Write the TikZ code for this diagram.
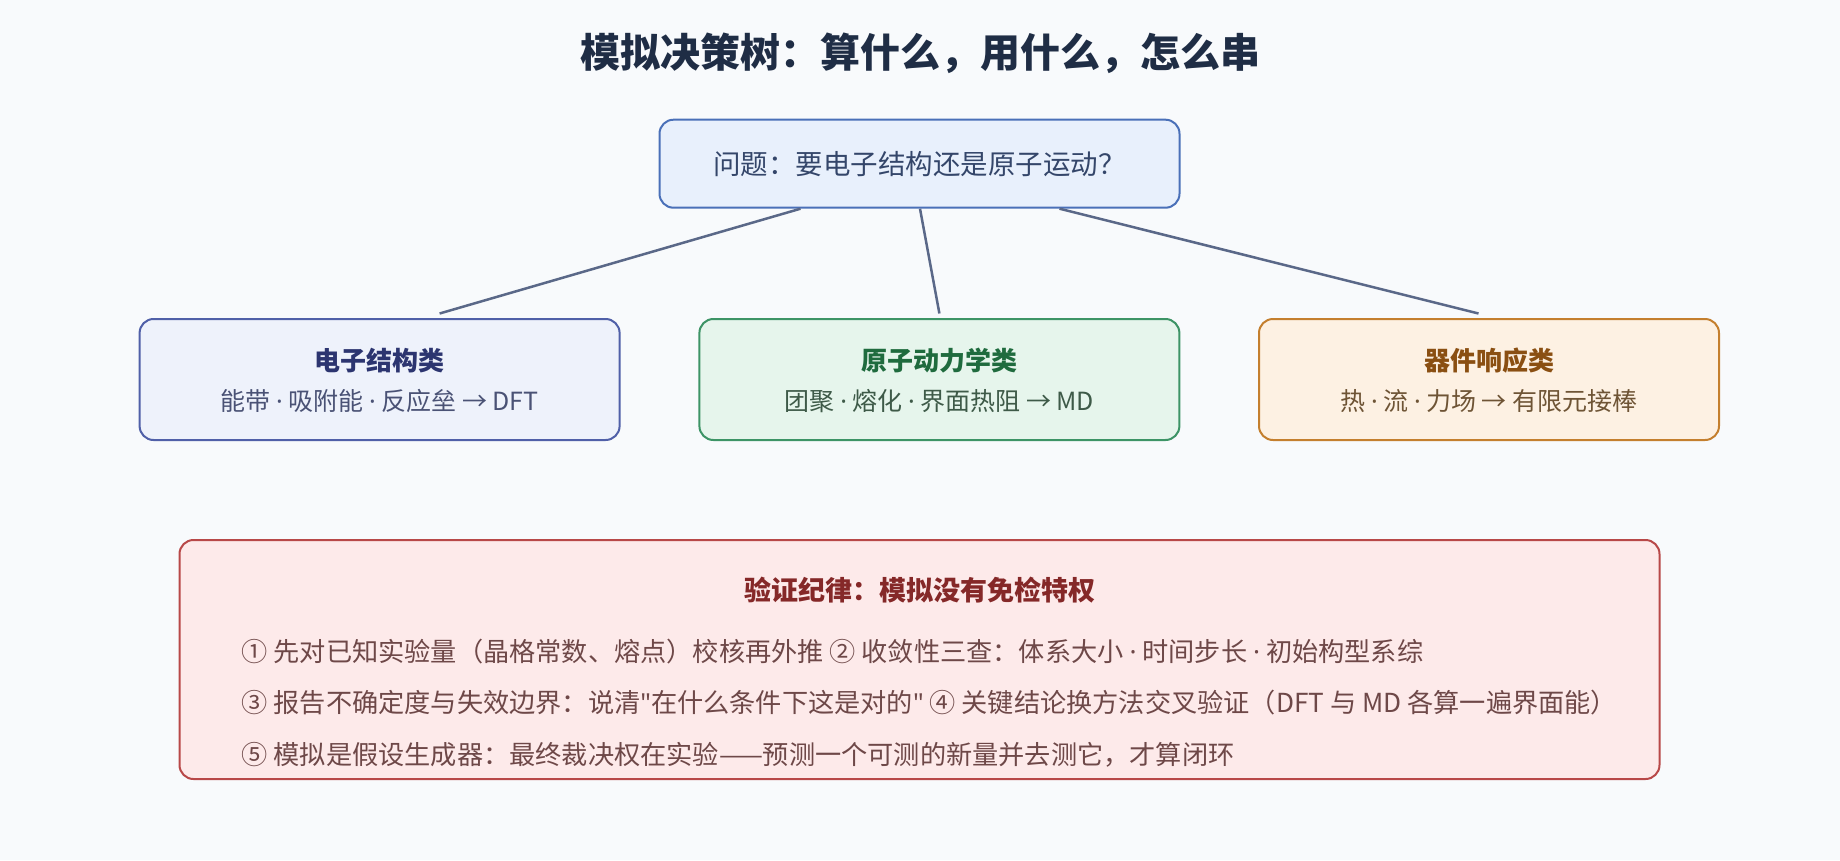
\documentclass[tikz,border=0pt]{standalone}
\usepackage{fontspec}
\setmainfont{Noto Sans CJK SC}
\newfontfamily\lat{Noto Sans}
\newcommand{\dotsep}{\ {\lat ·}\ }
\usepackage{tikz}
\definecolor{bgc}{HTML}{F8FAFC}
\definecolor{ttlc}{HTML}{1F2D45}
\definecolor{edgec}{HTML}{5A6888}
\definecolor{qfill}{HTML}{E8F0FC}
\definecolor{qdraw}{HTML}{4A70B8}
\definecolor{qtext}{HTML}{34466A}
\definecolor{efill}{HTML}{EEF2FB}
\definecolor{edraw}{HTML}{5060A8}
\definecolor{ehead}{HTML}{2C3570}
\definecolor{etext}{HTML}{4A5275}
\definecolor{mfill}{HTML}{E6F5EC}
\definecolor{mdraw}{HTML}{3D9466}
\definecolor{mhead}{HTML}{1F6B3E}
\definecolor{mtext}{HTML}{3E5A48}
\definecolor{dfill}{HTML}{FDF1E3}
\definecolor{ddraw}{HTML}{C47F2E}
\definecolor{dhead}{HTML}{8A4F12}
\definecolor{dtext}{HTML}{6E5435}
\definecolor{vfill}{HTML}{FDEAEA}
\definecolor{vdraw}{HTML}{B84848}
\definecolor{vhead}{HTML}{852828}
\definecolor{vtext}{HTML}{6E4848}
\tikzset{bx/.style = {rectangle, rounded corners=14pt, line width=2pt, inner sep=0pt, draw},
         hd/.style = {font=\fontsize{26}{30}\selectfont\bfseries},
         sb/.style = {font=\fontsize{25}{29}\selectfont},
         vl/.style = {anchor=west, text=vtext, font=\fontsize{26.2}{30}\selectfont},
         ln/.style = {line width=2.5pt, draw=edgec}}

\begin{document}
\begin{tikzpicture}[x=1pt, y=-1pt]
    \fill[bgc] (0,0) rectangle (1840,860);
    \node[text=ttlc, font=\fontsize{40}{48}\selectfont\bfseries] (ttl) at (920,53) {模拟决策树：算什么，用什么，怎么串};
    \node[bx, fill=qfill, draw=qdraw, minimum width=520pt, minimum height=88pt, text=qtext, font=\fontsize{27.5}{32}\selectfont] (q) at (919.5,163.7) {问题：要电子结构还是原子运动？};
    \node[bx, fill=efill, draw=edraw, minimum width=480pt, minimum height=121pt] (el) at (379.6,379.5) {};
    \node[bx, fill=mfill, draw=mdraw, minimum width=480pt, minimum height=121pt] (md) at (939.4,379.5) {};
    \node[bx, fill=dfill, draw=ddraw, minimum width=460pt, minimum height=121pt] (dv) at (1489,379.5) {};
    \node[hd, text=ehead] (elh) at ([yshift=18.5pt]el.center) {电子结构类};
    \node[sb, text=etext] (els) at ([yshift=-21.5pt]el.center) {能带\dotsep 吸附能\dotsep 反应垒 → DFT};
    \node[hd, text=mhead] (mdh) at ([yshift=18.5pt]md.center) {原子动力学类};
    \node[sb, text=mtext] (mds) at ([yshift=-21.5pt]md.center) {团聚\dotsep 熔化\dotsep 界面热阻 → MD};
    \node[hd, text=dhead] (dvh) at ([yshift=18.5pt]dv.center) {器件响应类};
    \node[sb, text=dtext] (dvs) at ([yshift=-21.5pt]dv.center) {热\dotsep 流\dotsep 力场 → 有限元接棒};
    \draw[ln] ([xshift=-119pt]q.south) -- ([xshift=60pt, yshift=4.5pt]el.north);
    \draw[ln] ([xshift=0.5pt]q.south) -- ([yshift=4.5pt]md.north);
    \draw[ln] ([xshift=140pt]q.south) -- ([xshift=-10.5pt, yshift=4.5pt]dv.north);
    \node[bx, fill=vfill, draw=vdraw, minimum width=1480pt, minimum height=239pt] (vr) at (919.5,659.5) {};
    \node[text=vhead, font=\fontsize{27}{32}\selectfont\bfseries] (vrh) at ([yshift=69pt]vr.center) {验证纪律：模拟没有免检特权};
    \node[vl] (v1) at (238,651.3) {① 先对已知实验量（晶格常数、熔点）校核再外推 ② 收敛性三查：体系大小\dotsep 时间步长\dotsep 初始构型系综};
    \node[vl] (v2) at (238,702.9) {③ 报告不确定度与失效边界：说清{\lat "}在什么条件下这是对的{\lat "} ④ 关键结论换方法交叉验证（DFT 与 MD 各算一遍界面能）};
    \node[vl] (v3) at (238,754.6) {⑤ 模拟是假设生成器：最终裁决权在实验——预测一个可测的新量并去测它，才算闭环};
\end{tikzpicture}
\end{document}
